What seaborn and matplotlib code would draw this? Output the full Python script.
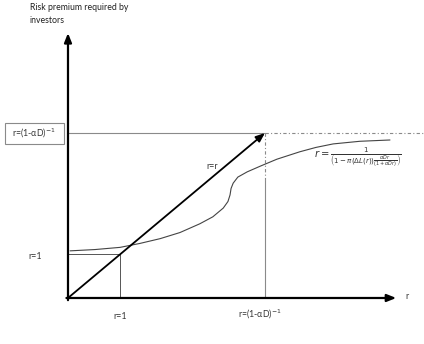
import numpy as np
import pandas as pd
import matplotlib
matplotlib.use("Agg")
import matplotlib.pyplot as plt
import seaborn as sns
from matplotlib.patches import Rectangle

# ---- data (in chart units) ----
threshold = 3.78          # r = (1 - alpha D)^-1
r_one = 1.0
curve_r = [0.04, 0.52, 1.00, 1.38, 1.77, 2.15, 2.53, 2.78, 2.98, 3.07, 3.11, 3.13, 3.17,
           3.26, 3.44, 3.69, 4.01, 4.45, 4.76, 5.09, 5.60, 6.18]
curve_premium = [1.08, 1.11, 1.16, 1.25, 1.36, 1.50, 1.70, 1.86, 2.06, 2.21, 2.36, 2.51, 2.63,
                 2.77, 2.89, 3.02, 3.18, 3.35, 3.45, 3.53, 3.59, 3.62]
x_axis_end = 6.30
y_axis_end = 6.07
x_lim = (-1.305, 6.833)
y_lim = (-1.054, 6.827)

title_text = "Risk premium required by\ninvestors"
box_label = r"r=(1-αD)$^{-1}$"
tick_label_left = "r=1"
tick_label_bottom_1 = "r=1"
tick_label_bottom_2 = r"r=(1-αD)$^{-1}$"
axis_label_x = "r"
diag_label = "r=r"
formula = r"$r=\frac{1}{\left(1-\pi(\Delta L(r))\frac{\alpha D r}{(1+\alpha D r)}\right)}$"

sns.set_theme(style="white")
plt.rcParams['font.family'] = ['Lato', 'DejaVu Sans']

fig = plt.figure(figsize=(4.24, 3.44), dpi=100)
ax = fig.add_axes([0, 0, 1, 1])
ax.set_xlim(*x_lim)
ax.set_ylim(*y_lim)
ax.axis("off")

gray = "#8a8a8a"

# reference lines
ax.plot([0, threshold], [threshold, threshold], color=gray, lw=0.8)
ax.plot([threshold, x_lim[1]], [threshold, threshold], color=gray, lw=0.8, ls=(0, (3, 2, 1, 2)))
ax.plot([threshold, threshold], [threshold, 2.70], color=gray, lw=0.8, ls=(0, (3, 2, 1, 2)))
ax.plot([threshold, threshold], [2.70, 0], color=gray, lw=0.8)
ax.plot([0, r_one], [r_one, r_one], color="#555555", lw=0.7)
ax.plot([r_one, r_one], [r_one, 0], color="#555555", lw=0.7)

# curve
df = pd.DataFrame({"r": curve_r, "premium": curve_premium})
sns.lineplot(data=df, x="r", y="premium", ax=ax, color="#444444", lw=0.8, sort=False)

# axes arrows
arrow_axis = dict(arrowstyle="-|>,head_length=0.45,head_width=0.18", color="black", lw=1.6, shrinkA=0, shrinkB=0)
arrow_diag = dict(arrowstyle="-|>,head_length=0.45,head_width=0.18", color="black", lw=1.3, shrinkA=0, shrinkB=0)
ax.annotate("", xy=(0, y_axis_end), xytext=(0, -0.05), arrowprops=arrow_axis)
ax.annotate("", xy=(x_axis_end, 0), xytext=(-0.03, 0), arrowprops=arrow_axis)
ax.annotate("", xy=(threshold, threshold), xytext=(0, 0), arrowprops=arrow_diag)

# texts
fs = 6.3
ax.text(-0.73, 6.76, title_text, fontsize=fs, ha="left", va="top", color="#222222", linespacing=1.55)
ax.add_patch(Rectangle((-1.21, 3.53), 1.135, 0.48, fill=False, ec=gray, lw=0.8, clip_on=False))
ax.text(-0.65, 3.77, box_label, fontsize=fs, ha="center", va="center", color="#333333")
ax.text(-0.63, 0.96, tick_label_left, fontsize=fs, ha="center", va="center", color="#333333")
ax.text(1.0, -0.42, tick_label_bottom_1, fontsize=fs, ha="center", va="center", color="#333333")
ax.text(3.69, -0.38, tick_label_bottom_2, fontsize=fs, ha="center", va="center", color="#333333")
ax.text(6.51, 0.03, axis_label_x, fontsize=fs, ha="center", va="center", color="#333333")
ax.text(2.76, 3.02, diag_label, fontsize=fs, ha="center", va="center", color="#333333")
ax.text(5.56, 3.24, formula, fontsize=7.2, ha="center", va="center", color="#333333")

fig.savefig("out.png", dpi=100)
